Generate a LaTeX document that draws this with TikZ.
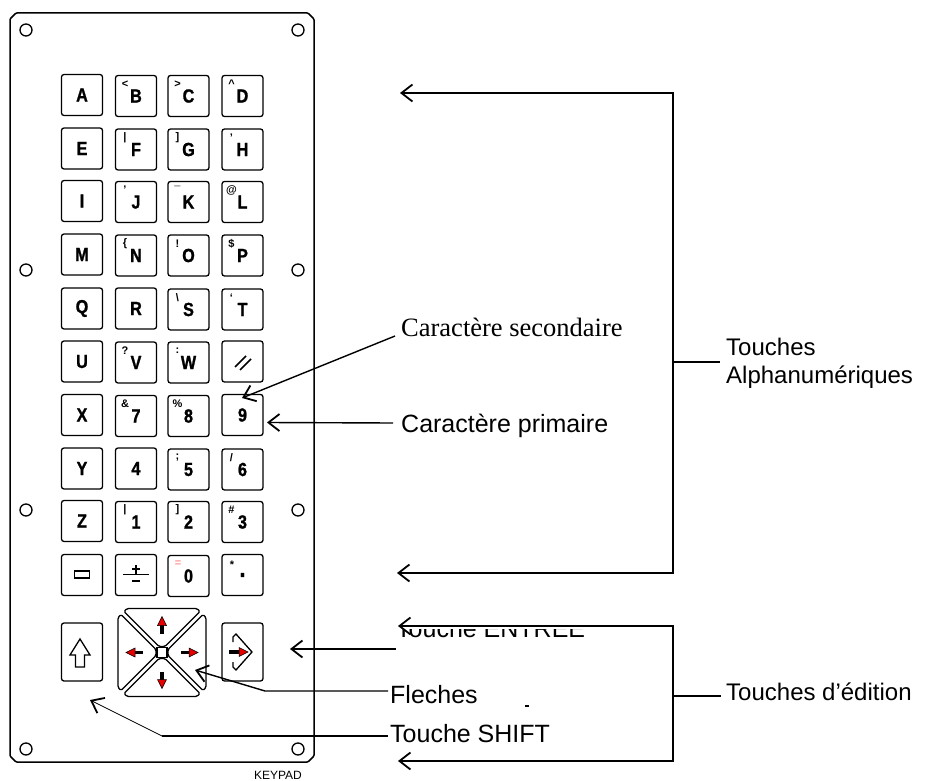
\documentclass[tikz,border=0pt]{standalone}
\usepackage{fontspec}
\setmainfont{Liberation Sans}
\newfontfamily\serifcap{Liberation Serif}
\newfontfamily\keyfont[FakeStretch=0.85,FakeBold=1.2]{Liberation Sans}
\usetikzlibrary{arrows.meta,calc}
\definecolor{arrred}{RGB}{230,0,0}
\definecolor{pinkish}{RGB}{255,150,150}
\tikzset{
  key/.style={draw, line width=1.3pt, rounded corners=2.5pt, minimum width=41pt, minimum height=41pt,
    inner sep=0pt, font=\keyfont\bfseries\fontsize{19}{19}\selectfont},
  sec/.style={inner sep=0pt, font=\bfseries\fontsize{11}{11}\selectfont},
  lbl/.style={inner sep=0pt, anchor=base west, font=\fontsize{25}{28}\selectfont},
  rlbl/.style={inner sep=0pt, anchor=base west, font=\fontsize{24}{28}\selectfont},
  ln/.style={line width=1.4pt},
  arr/.style={ln, -{Straight Barb[length=11pt,width=17pt,line width=1.8pt]}},
  padkey/.style={line width=1.3pt, rounded corners=1.5pt},
  glyph/.style={line width=1.3pt}
}
\newcommand\kkey[4]{\node[key] (#1) at (#2,#3) {#4};}
\newcommand\kkeys[5]{\node[key] (#1) at (#2,#3+1) {#4};\node[sec] (#1s) at (#2-11,#3-11) {#5};}
\begin{document}
\begin{tikzpicture}[x=1pt,y=-1pt]
\useasboundingbox (0,0) rectangle (927,781);
% panel
\draw[line width=1.5pt, rounded corners=1pt] (16,13) -- (308,13) -- (314,19) -- (314,756) -- (308,762) -- (16,762) -- (10,756) -- (10,19) -- cycle;
\foreach \hx/\hy in {26/30,298/30,26/270,298/270,26/510,298/510,26/749,298/749}
  \draw[line width=1.3pt] (\hx,\hy) circle [radius=6pt];
% keys
\def\ca{82}\def\cb{136}\def\cc{188.5}\def\cd{242.5}
\kkey{kA}{\ca}{95}{A}
\kkeys{kB}{\cb}{95}{B}{<}
\kkeys{kC}{\cc}{95}{C}{>}
\kkeys{kD}{\cd}{95}{D}{\char`\^}
\kkey{kE}{\ca}{148.5}{E}
\kkeys{kF}{\cb}{148.5}{F}{|}
\kkeys{kG}{\cc}{148.5}{G}{]}
\kkeys{kH}{\cd}{148.5}{H}{'}
\kkey{kI}{\ca}{201}{I}
\kkeys{kJ}{\cb}{201}{J}{'}
\kkeys{kK}{\cc}{201}{K}{¯}
\kkeys{kL}{\cd}{201}{L}{@}
\kkey{kM}{\ca}{254.5}{M}
\kkeys{kN}{\cb}{254.5}{N}{\{}
\kkeys{kO}{\cc}{254.5}{O}{!}
\kkeys{kP}{\cd}{254.5}{P}{\$}
\kkey{kQ}{\ca}{308.5}{Q}
\kkey{kR}{\cb}{308.5}{R}
\kkeys{kS}{\cc}{308.5}{S}{\textbackslash}
\kkeys{kT}{\cd}{308.5}{T}{`}
\kkey{kU}{\ca}{361.5}{U}
\kkeys{kV}{\cb}{361.5}{V}{?}
\kkeys{kW}{\cc}{361.5}{W}{:}
\kkey{kSl}{\cd}{361.5}{}
\draw[line width=1.7pt] (235,367) -- (246,356);
\draw[line width=1.7pt] (240,370) -- (251,359);
\kkey{kX}{\ca}{415}{X}
\kkeys{k7}{\cb}{415}{7}{\&}
\kkeys{k8}{\cc}{415}{8}{\%}
\kkey{k9}{\cd}{415}{9}
\kkey{kY}{\ca}{468.5}{Y}
\kkey{k4}{\cb}{468.5}{4}
\kkeys{k5}{\cc}{468.5}{5}{;}
\kkeys{k6}{\cd}{468.5}{6}{/}
\kkey{kZ}{\ca}{521}{Z}
\kkeys{k1}{\cb}{521}{1}{|}
\kkeys{k2}{\cc}{521}{2}{]}
\kkeys{k3}{\cd}{521}{3}{\#}
\kkey{kMin}{\ca}{575}{}
\draw[glyph] (74.5,571) rectangle (89.5,578);
\kkey{kPm}{\cb}{575}{}
\draw[glyph] (136,565) -- (136,574);
\draw[glyph] (132,569) -- (140,569);
\draw[glyph] (123,574.5) -- (149,574.5);
\draw[glyph] (132,581) -- (140,581);
\node[key] (k0) at (\cc,576) {0};
\node[sec, text=pinkish] (k0s) at (\cc-10.5,575-11) {=};
\node[key, font=\keyfont\bfseries\fontsize{26}{26}\selectfont] (kDot) at (\cd,575) {.};
\node[sec] (kDots) at (\cd-10.5,575-10) {*};
% shift key
\node[key, minimum height=58pt] (kShift) at (82,652) {};
\draw[glyph] (80,639) -- (90,655) -- (84.5,655) -- (84.5,667) -- (75.5,667) -- (75.5,655) -- (70,655) -- cycle;
% enter key
\node[key, minimum height=58pt] (kEnter) at (242.5,652) {};
\draw[glyph] (233,642) -- (233,637) -- (236,634) -- (252,652) -- (236,670) -- (233,667) -- (233,662);
\draw[line width=3.5pt] (229,652) -- (240,652);
\draw[line width=.5pt, fill=arrred] (239,647.5) -- (248,652) -- (239,656.5) -- cycle;
% arrow pad
\foreach \a in {0,90,180,270}{
  \begin{scope}[shift={(162,652.5)}, rotate=\a]
    \draw[padkey] (-35,-44) -- (35,-44) -- (38,-41) -- (3,-6) -- (-3,-6) -- (-38,-41) -- cycle;
    \draw[line width=3.5pt] (0,-19) -- (0,-28);
    \draw[line width=.5pt, fill=arrred] (-4.5,-27) -- (0,-36) -- (4.5,-27) -- cycle;
  \end{scope}
}
\draw[line width=1.2pt] (157,647.5) rectangle (167,657.5);
% labels
\node[lbl, font=\serifcap\fontsize{26.5}{28}\selectfont] (csec) at (401,336) {Caractère secondaire};
\node[lbl] (cpri) at (401,432) {Caractère primaire};
\node[rlbl] (tA1) at (726,355) {Touches};
\node[rlbl] (tA2) at (726,383) {Alphanumériques};
\node[rlbl] (tEd) at (726,700) {Touches d’édition};
\node[lbl] (tFl) at (390,703) {Fleches};
\node[lbl] (tSh) at (390,742) {Touche SHIFT};
\begin{scope}
  \clip (380,629) rectangle (660,660);
  \node[lbl] (tEnt) at (396,637) {Touche ENTREE};
\end{scope}
\node[inner sep=0pt, anchor=base, font=\fontsize{12}{12}\selectfont] (kp) at (278,779) {KEYPAD};
% connectors
\coordinate (secTip) at (242,398);
\draw[arr] ([xshift=-6pt]csec.base west) -- (secTip);
\coordinate (priTip) at (267,422.5);
\draw[arr] ([xshift=-8pt,yshift=9pt]cpri.base west) -- (priTip);
\coordinate (aMid) at (673,362);
\coordinate (aTop) at (400,93);
\coordinate (aBot) at (397,573);
\draw[ln] (aMid) -- ([xshift=-6pt,yshift=-7pt]tA1.base west);
\draw[arr] (aMid) |- (aTop);
\draw[arr] (aMid) |- (aBot);
\coordinate (eMid) at (673,696);
\coordinate (eTop) at (398,626);
\coordinate (eBot) at (398,761);
\draw[ln] (eMid) -- ([xshift=-5pt,yshift=4pt]tEd.base west);
\draw[arr] (eMid) |- (eTop);
\draw[arr] (eMid) |- (eBot);
\coordinate (entTip) at (290,649);
\draw[arr] ([yshift=-12pt]tEnt.base west) -- (entTip);
\coordinate (flBend) at (265,691);
\coordinate (flTip) at (195,670);
\draw[arr] ([xshift=-2pt,yshift=12pt]tFl.base west) -- (flBend) -- (flTip);
\coordinate (shBend) at (162,736);
\coordinate (shTip) at (90,700);
\draw[ln] ([xshift=-2pt,yshift=6pt]tSh.base west) -- (shBend);
\draw[line width=0.7pt, -{Straight Barb[length=11pt,width=17pt,line width=1.8pt]}] (shBend) -- (shTip);
\draw[line width=1.3pt] (525,706) -- (529,706);
\end{tikzpicture}
\end{document}
